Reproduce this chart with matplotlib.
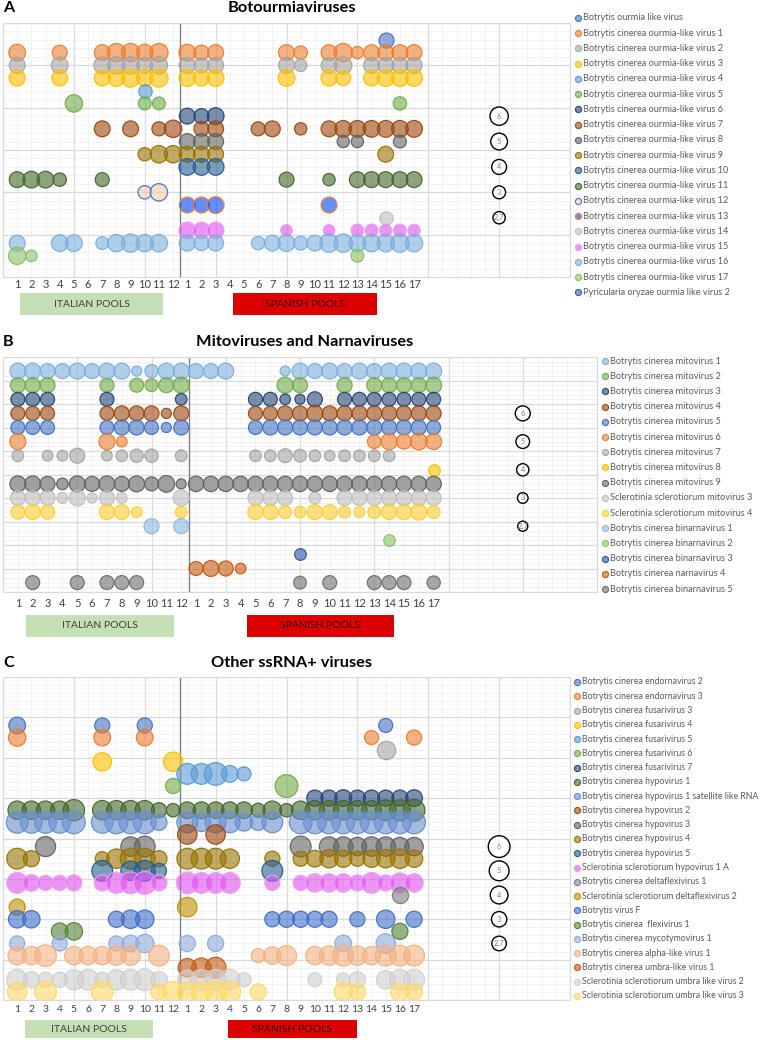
import matplotlib.pyplot as plt
import matplotlib.colors as mcolors
from matplotlib.lines import Line2D
from matplotlib.patches import Rectangle
from matplotlib.ticker import MultipleLocator

plt.rcParams['font.family'] = ['Lato', 'DejaVu Sans']

# x positions: 12 Italian pools, then 17 Spanish pools
pool_labels = [str(i) for i in range(1, 13)] + [str(i) for i in range(1, 18)]
pool_x = list(range(1, 30))

# size legend (bubble value)
size_vals = [6, 5, 4, 3, 2.7]
size_text = ['6', '5', '4', '3', '2,7']

# ---------------- A: Botourmiaviruses ----------------
A_names = ['Botrytis ourmia like virus'] + \
          ['Botrytis cinerea ourmia-like virus %d' % i for i in range(1, 18)] + \
          ['Pyricularia oryzae ourmia like virus 2']
A_fill = ['#4472C4', '#ED7D31', '#A5A5A5', '#FFC000', '#5B9BD5', '#70AD47', '#264478',
          '#9E480E', '#636363', '#997300', '#255E91', '#43682B', '#F8CBAD', '#0044FF',
          '#BFBFBF', '#DF4FEF', '#7CAFDD', '#8CC168', '#3A5DAE']
A_edge = ['#4472C4', '#ED7D31', '#A5A5A5', '#FFC000', '#5B9BD5', '#70AD47', '#264478',
          '#9E480E', '#636363', '#997300', '#255E91', '#43682B', '#4472C4', '#ED7D31',
          '#BFBFBF', '#EE9CF5', '#7CAFDD', '#8CC168', '#3A5DAE']
A_cols = [
    [27],
    [1, 4, 7, 8, 9, 10, 11, 13, 14, 15, 20, 21, 23, 24, 25, 26, 27, 28, 29],
    [1, 4, 7, 8, 9, 10, 11, 13, 14, 15, 20, 21, 23, 24, 26, 27, 28, 29],
    [1, 4, 7, 8, 9, 10, 11, 13, 14, 15, 20, 23, 24, 26, 27, 28, 29],
    [10],
    [5, 10, 11, 28],
    [13, 14, 15],
    [7, 9, 11, 12, 14, 15, 18, 19, 21, 23, 24, 25, 26, 27, 28, 29],
    [13, 14, 15, 24, 25, 28],
    [10, 11, 12, 13, 14, 15, 27],
    [13, 14, 15],
    [1, 2, 3, 4, 7, 20, 23, 25, 26, 27, 28, 29],
    [10, 11],
    [13, 14, 15, 23],
    [27],
    [13, 14, 15, 20, 23, 25, 26, 27, 28, 29],
    [1, 4, 5, 7, 8, 9, 10, 11, 13, 14, 15, 18, 19, 20, 21, 22, 23, 24, 25, 26, 27, 28, 29],
    [1, 2, 25],
    [],
]
A_vals = [
    [4.0],
    [5, 4, 4.5, 6, 6, 5, 6, 5, 4, 4.5, 4.5, 3.2, 4.5, 6, 2.7, 4.5, 4.5, 4.5, 4.5],
    [4.5, 5, 5, 5.4, 5.4, 4.5, 5.4, 4.5, 4, 4.5, 4.5, 2.7, 4.5, 5.4, 4.5, 4.5, 4.5, 4.5],
    [4.5, 4.5, 4.5, 5, 6, 5, 6, 5, 4.5, 5, 5, 4.5, 4, 4.5, 5, 5, 5],
    [3.2],
    [5.4, 2.9, 2.9, 3.2],
    [4.5, 4, 5],
    [4.5, 4.5, 3.5, 5.4, 4, 4.5, 3.5, 4.5, 2.7, 4.5, 5, 5, 5, 5, 5, 5],
    [4.5, 4.5, 4.5, 2.7, 2.7, 3],
    [3.2, 5.4, 5.4, 4.5, 4.5, 4.5, 4.5],
    [5, 5, 5],
    [4.5, 5, 5, 3.2, 3.5, 4, 2.7, 4.5, 4.5, 4.5, 4.5, 4.5],
    [3.2, 5.4],
    [4.5, 4.5, 5, 4.5],
    [3.2],
    [5, 5, 5, 2.4, 2.4, 2.9, 2.9, 2.7, 2.9, 2.7],
    [4.5, 5, 5, 2.9, 5.4, 6, 5.4, 5.4, 4.5, 4, 4.5, 3.2, 4.5, 5, 3.5, 4.5, 6, 6, 5, 5.4, 5.4, 6, 5.4],
    [5.4, 2.4, 2.9],
    [],
]

# ---------------- B: Mitoviruses and Narnaviruses ----------------
B_names = ['Botrytis cinerea mitovirus %d' % i for i in range(1, 10)] + \
          ['Sclerotinia sclerotiorum mitovirus 3', 'Sclerotinia sclerotiorum mitovirus 4',
           'Botrytis cinerea binarnavirus 1', 'Botrytis cinerea binarnavirus 2',
           'Botrytis cinerea binarnavirus 3', 'Botrytis cinerea narnavirus 4',
           'Botrytis cinerea binarnavirus 5']
B_fill = ['#7CAFDD', '#70AD47', '#264478', '#9E480E', '#4472C4', '#ED7D31', '#A5A5A5',
          '#FFC000', '#636363', '#BFBFBF', '#FFCD33', '#8FB8E3', '#8CC168', '#2E55A6',
          '#C55A11', '#6F6F6F']
B_edge = B_fill
spanish_all = list(range(17, 30))
B_cols = [
    [1, 2, 3, 4, 5, 6, 7, 8, 9, 10, 11, 12, 13, 14, 15, 19, 20, 21, 22, 23, 24, 25, 26, 27, 28, 29],
    [1, 2, 3, 7, 9, 10, 11, 12, 19, 20, 23, 25, 26, 27, 28, 29],
    [1, 2, 3, 7, 12, 17, 18, 19, 20, 21, 23, 24, 25, 26, 27, 28, 29],
    [1, 2, 3, 7, 8, 9, 10, 11, 12] + spanish_all,
    [1, 2, 3, 7, 8, 9, 10, 11, 12] + spanish_all,
    [1, 7, 8, 25, 26, 27, 28, 29],
    [1, 3, 4, 5, 7, 8, 9, 10, 12, 17, 18, 19, 20, 21, 22, 23, 24, 25, 26],
    [29],
    list(range(1, 30)),
    [1, 2, 3, 4, 5, 6, 7, 8, 12, 17, 18, 19, 21, 23, 24, 25, 26, 27, 28, 29],
    [1, 2, 3, 7, 8, 9, 12, 17, 18, 19, 20, 21, 22, 23, 24, 25, 26, 27, 28, 29],
    [10, 12],
    [26],
    [20],
    [13, 14, 15, 16],
    [2, 5, 7, 8, 9, 20, 22, 25, 26, 27, 29],
]
B_vals = [
    [6.8, 6.8, 6, 6, 6.8, 6, 6.8, 6.8, 2.7, 4.7, 6.8, 6.8, 6, 6, 6.8, 2.7, 6.8, 6, 6.8, 6, 6.8, 6, 6.8, 6.8, 6.8, 6.8],
    [6, 6, 6, 5.2, 5.2, 4.3, 6, 6.8, 6.8, 6, 6, 6, 6, 6, 6, 6.8],
    [5.2, 5.2, 5.2, 5.2, 3.6, 5.2, 5.2, 3.0, 2.7, 6, 5.2, 5.2, 5.2, 5.2, 5.2, 5.2, 5.2],
    [5.2, 5.2, 5.2, 5.2, 6, 6, 6, 2.7, 6, 5.2, 5.2, 6, 6, 6.8, 6, 6, 6, 6, 6, 6, 6, 6],
    [5.2, 5.2, 5.2, 5.2, 6, 6, 5.2, 2.7, 6, 5.2, 6, 6, 6, 6, 6, 6, 6, 6, 6, 6, 6, 5.2],
    [6.8, 6.8, 3.0, 5.0, 6.8, 6, 7.4, 6.8],
    [3.6, 3.0, 3.0, 6, 3.0, 3.6, 4.7, 4.7, 3.6, 3.6, 3.6, 5.2, 4.3, 3.6, 3.0, 3.6, 3.6, 3.6, 3.6],
    [3.6],
    [6.8, 6.8, 6, 3.6, 6.8, 6, 6.8, 6, 6.8, 5.2, 7.4, 2.7,
     6.3, 6.3, 6.3, 6.3, 6.3, 6.3, 6.3, 6.3, 6.3, 6.3, 6.3, 6.3, 6.3, 6.3, 6.3, 6.3, 6.3],
    [6, 6, 6, 3.0, 6.8, 2.7, 6, 3.0, 6.8, 6, 6, 6, 3.6, 6, 6, 6, 6, 6, 6, 6],
    [5.2, 6, 5.2, 6, 6, 3.0, 3.6, 6, 6, 4.3, 3.6, 6, 6, 3.6, 3.0, 4.3, 6, 6, 6.8, 4.3],
    [6, 6],
    [3.6],
    [3.6],
    [5.2, 6.8, 6, 3.0],
    [5.2, 5.2, 5.2, 5.2, 5.2, 4.3, 5.2, 5.2, 5.2, 5.2, 4.7],
]

# ---------------- C: Other ssRNA+ viruses ----------------
C_names = ['Botrytis cinerea endornavirus 2', 'Botrytis cinerea endornavirus 3',
           'Botrytis cinerea fusarivirus 3', 'Botrytis cinerea fusarivirus 4',
           'Botrytis cinerea fusarivirus 5', 'Botrytis cinerea fusarivirus 6',
           'Botrytis cinerea fusarivirus 7', 'Botrytis cinerea hypovirus 1',
           'Botrytis cinerea hypovirus 1 satellite like RNA', 'Botrytis cinerea hypovirus 2',
           'Botrytis cinerea hypovirus 3', 'Botrytis cinerea hypovirus 4',
           'Botrytis cinerea hypovirus 5', 'Sclerotinia sclerotiorum hypovirus 1 A',
           'Botrytis cinerea deltaflexivirus 1', 'Sclerotinia sclerotiorum deltaflexivirus 2',
           'Botrytis virus F', 'Botrytis cinerea  flexivirus 1', 'Botrytis cinerea mycotymovirus 1',
           'Botrytis cinerea alpha-like virus 1', 'Botrytis cinerea umbra-like virus 1',
           'Sclerotinia sclerotiorum umbra like virus 2', 'Sclerotinia sclerotiorum umbra like virus 3']
C_fill = ['#4472C4', '#ED7D31', '#A5A5A5', '#FFC000', '#5B9BD5', '#70AD47', '#264478',
          '#43682B', '#698ED0', '#9E480E', '#636363', '#997300', '#255E91', '#DF4FEF',
          '#7F7F7F', '#BF9000', '#3F6FC8', '#548235', '#8FAADC', '#F4B183', '#C55A11',
          '#D0D0D0', '#FFD966']
C_edge = C_fill[:13] + ['#EE9CF5'] + C_fill[14:]
C_cols = [
    [1, 7, 10, 27],
    [1, 7, 10, 26, 29],
    [27],
    [7, 12],
    [13, 14, 15, 16, 17],
    [12, 20],
    [22, 23, 24, 25, 26, 27, 28, 29],
    [1, 2, 3, 4, 5, 7, 8, 9, 10, 11, 12, 13, 14, 15, 16, 17, 18, 19, 20, 21, 22, 23, 24, 25, 26, 27, 28, 29],
    [1, 2, 3, 4, 5, 7, 8, 9, 10, 11, 13, 14, 15, 16, 17, 18, 19, 21, 22, 23, 24, 25, 26, 27, 28, 29],
    [13, 15],
    [3, 9, 10, 21, 23, 24, 25, 26, 27, 28, 29],
    [1, 2, 7, 8, 9, 10, 11, 13, 14, 15, 16, 19, 21, 22, 23, 24, 25, 26, 27, 28, 29],
    [7, 9, 10, 11, 19],
    [1, 2, 3, 4, 5, 7, 8, 9, 10, 11, 13, 14, 15, 16, 19, 21, 22, 23, 24, 25, 26, 27, 28, 29],
    [28],
    [1, 13],
    [1, 2, 8, 9, 10, 19, 20, 21, 22, 23, 25, 27, 29],
    [4, 5, 28],
    [1, 4, 8, 9, 10, 13, 15, 24, 27],
    [1, 2, 3, 5, 6, 7, 8, 9, 11, 18, 19, 20, 22, 23, 24, 25, 26, 27, 28, 29],
    [13, 14, 15],
    [1, 2, 3, 4, 5, 6, 7, 8, 9, 10, 11, 13, 14, 15, 16, 17, 22, 24, 25, 27, 28, 29],
    [1, 3, 7, 11, 12, 13, 14, 15, 16, 18, 24, 25, 28, 29],
]
C_vals = [
    [3.55, 2.9, 2.9, 2.5],
    [3.84, 3.55, 3.55, 2.5, 2.9],
    [4.3],
    [4.3, 4.8],
    [5.5, 5.5, 6.6, 3.55, 2.5],
    [2.9, 6.6],
    [3.3, 3.3, 3.55, 3.3, 3.3, 3.3, 3.3, 3.55],
    [4.3, 4.3, 4.3, 4.3, 5.8, 4.8, 4.8, 4.8, 4.8, 2.9, 2.3, 3.55, 3.55, 3.55, 3.55, 3.55,
     2.5, 4.3, 2.3, 4.3, 4.8, 4.8, 4.8, 4.8, 4.8, 5.5, 5.5, 6],
    [6, 6, 6, 6, 6.6, 6, 6.6, 6.6, 6.6, 3.3, 5.5, 4.3, 5.5, 5.5, 3.84, 3.3, 5.5,
     6.6, 6.6, 6.6, 6.6, 6.6, 6.6, 6.6, 6.6, 6.6],
    [4.8, 4.8],
    [5.1, 4.8, 5.5, 5.5, 4.8, 4.8, 4.3, 4.8, 4.8, 4.3, 4.3],
    [5.5, 3.3, 2.5, 4.8, 5.5, 5.5, 3.3, 5.5, 5.5, 5.5, 4.8, 2.9, 2.9, 3.55, 4.3, 3.84,
     2.9, 3.84, 4.3, 4.8, 3.84],
    [5.5, 4.8, 5.5, 2.9, 5.5],
    [5.5, 3.55, 2.9, 2.9, 3.3, 3.3, 5.5, 6, 6.6, 3.3, 6, 5.5, 5.5, 5.5, 2.9, 2.9, 4.3,
     4.3, 4.3, 3.3, 5.5, 3.3, 5.1, 4.3],
    [3.3],
    [3.3, 4.8],
    [3.84, 3.84, 3.3, 4.3, 4.3, 2.9, 3.3, 3.3, 3.3, 3.3, 2.9, 4.3, 3.3],
    [3.55, 3.84, 3.3],
    [2.9, 2.9, 2.9, 3.55, 4.3, 3.3, 3.3, 3.55, 4.8],
    [4.3, 4.3, 6, 4.3, 4.3, 4.3, 4.8, 4.8, 5.5, 2.5, 3.84, 5.1, 4.3, 4.8, 5.5, 4.8, 4.3, 5.5, 5.5, 5.5],
    [4.3, 4.8, 5.5],
    [5.5, 3.3, 2.9, 2.9, 5.1, 5.5, 2.9, 5.1, 5.5, 6, 3.55, 4.8, 5.5, 5.5, 5.5, 2.5, 2.5,
     2.3, 3.3, 4.3, 5.5, 5.5],
    [4.8, 6, 6, 3.3, 5.5, 4.8, 5.5, 6, 6, 3.3, 4.3, 3.55, 4.3, 3.55],
]

W, H = 760, 1040
fig = plt.figure(figsize=(W / 100, H / 100), dpi=100)


def fx(px):
    return px / W


def fy(py):
    return 1 - py / H


def pool_box(l, t, r, b, color, text, tcolor):
    fig.patches.append(Rectangle((fx(l), fy(b)), fx(r - l), (b - t) / H,
                                 transform=fig.transFigure, facecolor=color, edgecolor='none'))
    fig.text(fx((l + r) / 2), fy((t + b) / 2), text, ha='center', va='center',
             fontsize=7.5, color=tcolor)


def panel(box, ymax, y0, dy, k, names, fills, edges, cols, vals, size_y,
          leg, letter, title, title_y, tick_pad, tick_size, boxes):
    l, t, r, b = box
    ax = fig.add_axes([fx(l), fy(b), fx(r - l), (b - t) / H])
    ax.set_xlim(0, 40)
    ax.set_ylim(0, ymax)
    ax.xaxis.set_major_locator(MultipleLocator(5))
    ax.xaxis.set_minor_locator(MultipleLocator(1))
    ax.yaxis.set_major_locator(MultipleLocator(5))
    ax.yaxis.set_minor_locator(MultipleLocator(1))
    ax.grid(which='major', color='#d9d9d9', lw=0.9)
    ax.grid(which='minor', color='#f0f0f0', lw=0.6)
    ax.tick_params(which='both', length=0, labelbottom=False, labelleft=False)
    ax.set_axisbelow(True)
    for s in ax.spines.values():
        s.set_color('#d9d9d9')
    ax.axvline(12.5, color='#808080', lw=1.0, zorder=1)

    for i in range(len(names)):
        if not cols[i]:
            continue
        y = [y0 - dy * i] * len(cols[i])
        ax.scatter(cols[i], y, s=[k * v for v in vals[i]],
                   facecolors=[mcolors.to_rgba(fills[i], 0.6)],
                   edgecolors=[mcolors.to_rgba(edges[i], 0.95)], linewidths=0.9, zorder=3)

    # size legend
    ax.scatter([35] * len(size_vals), size_y, s=[k * v for v in size_vals],
               facecolors='white', edgecolors='black', linewidths=1.0, zorder=3)
    for v, yy, txt in zip(size_vals, size_y, size_text):
        ax.text(35, yy, txt, ha='center', va='center', fontsize=5.5, color='#808080', zorder=4)

    sec = ax.secondary_xaxis('bottom')
    sec.set_xticks(pool_x, pool_labels)
    sec.tick_params(length=0, pad=tick_pad, labelsize=tick_size, labelcolor='#404040')
    sec.spines['bottom'].set_visible(False)

    # series legend
    lx, ly0, lstep, lsize = leg
    for i, name in enumerate(names):
        yy = fy(ly0 + i * lstep)
        fig.add_artist(Line2D([fx(lx)], [yy], marker='o', markersize=4.4,
                              markerfacecolor=mcolors.to_rgba(fills[i], 0.6),
                              markeredgecolor=edges[i], markeredgewidth=0.8,
                              transform=fig.transFigure))
        fig.text(fx(lx + 5), yy, name, ha='left', va='center', fontsize=lsize, color='#595959')

    fig.text(fx(3), fy(title_y), letter, ha='left', va='center', fontsize=11.5, fontweight='bold')
    fig.text(fx((l + r) / 2 + 5), fy(title_y), title, ha='center', va='center',
             fontsize=11.8, fontweight='bold')

    (il, ir), (sl, sr), (bt, bb) = boxes
    pool_box(il, bt, ir, bb, '#C5E0B4', 'ITALIAN POOLS', '#404040')
    pool_box(sl, bt, sr, bb, '#DC0000', 'SPANISH POOLS', '#3a0000')
    return ax


panel((3, 23, 570, 277), 30, 28, 1.5, 28.9, A_names, A_fill, A_edge, A_cols, A_vals,
      [19, 16, 13, 10, 7], (578, 18, 15.24, 6.6), 'A', 'Botourmiaviruses', 8, 1.5, 8,
      ((20, 163), (233, 377), (293, 315)))

panel((3, 357, 597, 592), 50, 47, 3, 19.4, B_names, B_fill, B_edge, B_cols, B_vals,
      [38, 32, 26, 20, 14], (605, 361, 15.2, 6.6), 'B', 'Mitoviruses and Narnaviruses', 342, 4, 8,
      ((26, 174), (247, 394), (615, 637)))

panel((3, 677, 570, 1000), 40, 34, 1.5, 40.7, C_names, C_fill, C_edge, C_cols, C_vals,
      [19, 16, 13, 10, 7], (577, 682, 14.27, 6.3), 'C', 'Other ssRNA+ viruses', 663, 3.5, 7.5,
      ((25, 153), (228, 357), (1020, 1038)))

fig.savefig('out.png', dpi=100)
